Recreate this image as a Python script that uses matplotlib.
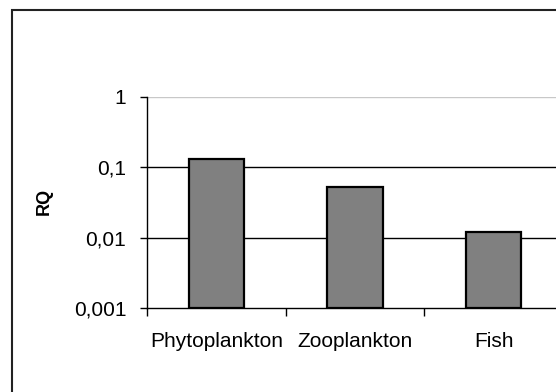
import matplotlib
matplotlib.use("Agg")
import matplotlib.pyplot as plt
from matplotlib.patches import Rectangle
from matplotlib.ticker import FixedLocator, FixedFormatter, NullLocator

# Risk quotients per trophic group
categories = ["Phytoplankton", "Zooplankton", "Fish"]
rq_values = [0.131, 0.0525, 0.0120]
y_ticks = [0.001, 0.01, 0.1, 1]
y_tick_labels = ["0,001", "0,01", "0,1", "1"]

plt.rcParams["font.family"] = ["Liberation Sans", "DejaVu Sans"]

W, H = 556, 392
fig = plt.figure(figsize=(W / 100, H / 100), dpi=100)

# Chart-area frame (runs past the right and bottom edges)
fig.patches.append(Rectangle((12 / W, -0.1), 1.2, (H - 10) / H + 0.1,
                             transform=fig.transFigure, fill=False,
                             edgecolor="#222222", linewidth=1.5, zorder=0))

left, right, top, bottom = 147, 563, 97, 308
ax = fig.add_axes([left / W, (H - bottom) / H, (right - left) / W, (bottom - top) / H])
ax.set_yscale("log")
ax.set_ylim(y_ticks[0], y_ticks[-1])
ax.set_xlim(-0.5, len(categories) - 0.5)

# Horizontal gridlines
for v in y_ticks[1:]:
    color = "#c8c8c8" if v == y_ticks[-1] else "#000000"
    ax.axhline(v, color=color, linewidth=1.0, zorder=1)

x = list(range(len(categories)))
ax.bar(x, [v - y_ticks[0] for v in rq_values], bottom=y_ticks[0], width=0.4,
       color="#808080", edgecolor="#000000", linewidth=1.6, zorder=2)

ax.yaxis.set_major_locator(FixedLocator(y_ticks))
ax.yaxis.set_major_formatter(FixedFormatter(y_tick_labels))
ax.yaxis.set_minor_locator(NullLocator())
ax.tick_params(axis="y", which="major", direction="out", length=5, width=1,
               pad=10, labelsize=15)

ax.set_xticks(x)
ax.set_xticklabels(categories)
ax.xaxis.set_minor_locator(FixedLocator([i - 0.5 for i in range(len(categories) + 1)]))
ax.tick_params(axis="x", which="major", length=0, pad=17, labelsize=15)
ax.tick_params(axis="x", which="minor", direction="out", length=6, width=1)

for side in ("top", "right"):
    ax.spines[side].set_visible(False)
for side in ("left", "bottom"):
    ax.spines[side].set_linewidth(1.0)
    ax.spines[side].set_color("#000000")

ax.set_ylabel("RQ", fontsize=13, fontweight="bold")
ax.yaxis.set_label_coords((53 - left) / (right - left), (bottom - 201) / (bottom - top))

fig.savefig("out.png", dpi=100)
